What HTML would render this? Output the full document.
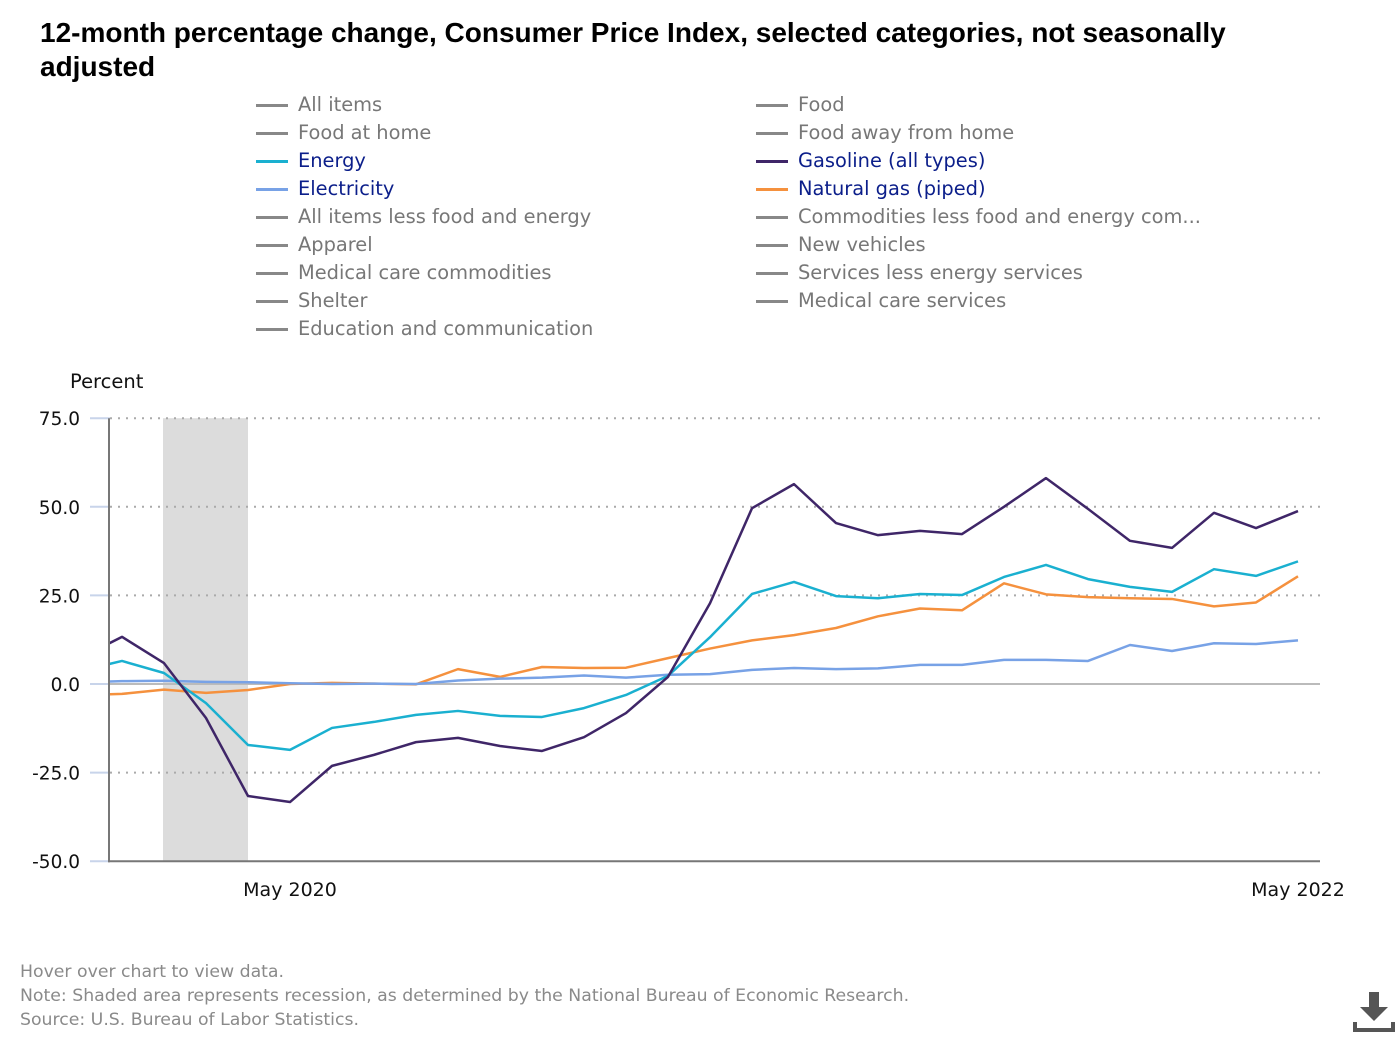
<!DOCTYPE html>
<html><head><meta charset="utf-8"><style>
body{margin:0;background:#fff;font-family:"DejaVu Sans","Liberation Sans",sans-serif;}
#wrap{position:relative;width:1400px;height:1040px;overflow:hidden;}
h1{position:absolute;left:40px;top:16px;margin:0;font-family:"Liberation Sans",sans-serif;font-size:28px;line-height:34px;font-weight:bold;color:#000;width:1250px;}
.leg{position:absolute;font-size:19.4px;color:#777;height:28px;line-height:28px;white-space:nowrap;}
.leg .ln{position:absolute;left:0;top:13px;width:32px;height:3px;background:#888;}
.leg span.t{position:absolute;left:42px;}
.leg.on{color:#0b1e8a;}
.foot{position:absolute;left:20px;font-size:17.3px;color:#8a8a8a;}
</style></head><body><div id="wrap">
<h1>12-month percentage change, Consumer Price Index, selected categories, not seasonally adjusted</h1>
<div id="legend"></div>
<svg id="chart" width="1400" height="1040" style="position:absolute;left:0;top:0"></svg>
<div class="foot" style="top:962px">Hover over chart to view data.</div>
<div class="foot" style="top:986px">Note: Shaded area represents recession, as determined by the National Bureau of Economic Research.</div>
<div class="foot" style="top:1010px">Source: U.S. Bureau of Labor Statistics.</div>
<svg style="position:absolute;left:1352px;top:990px" width="44" height="44">
<rect x="17" y="2" width="10" height="16" fill="#555"/><polygon points="8,17 36,17 22,31" fill="#555"/>
<path d="M3 32 V40 H41 V32" stroke="#555" stroke-width="4" fill="none"/></svg>
</div>
<script>
const legendNames=["All items","Food","Food at home","Food away from home","Energy","Gasoline (all types)","Electricity","Natural gas (piped)","All items less food and energy","Commodities less food and energy com...","Apparel","New vehicles","Medical care commodities","Services less energy services","Shelter","Medical care services","Education and communication"];
const legendColors={"Energy":"#1ab0d0","Gasoline (all types)":"#3f2668","Electricity":"#78a2e6","Natural gas (piped)":"#f5913e"};
const months=["Dec 2019","Jan 2020","Feb 2020","Mar 2020","Apr 2020","May 2020","Jun 2020","Jul 2020","Aug 2020","Sep 2020","Oct 2020","Nov 2020","Dec 2020","Jan 2021","Feb 2021","Mar 2021","Apr 2021","May 2021","Jun 2021","Jul 2021","Aug 2021","Sep 2021","Oct 2021","Nov 2021","Dec 2021","Jan 2022","Feb 2022","Mar 2022","Apr 2022","May 2022"];
const gasoline=[7.3,13.3,5.9,-9.6,-31.6,-33.3,-23.1,-20.0,-16.4,-15.2,-17.5,-18.9,-15.0,-8.2,2.0,22.8,49.6,56.4,45.4,42.0,43.2,42.3,50.0,58.1,49.4,40.4,38.4,48.3,44.0,48.8];
const energy=[3.7,6.5,3.1,-5.4,-17.2,-18.6,-12.4,-10.7,-8.7,-7.6,-9.0,-9.3,-6.8,-3.1,2.3,13.2,25.4,28.8,24.8,24.2,25.4,25.1,30.2,33.6,29.6,27.4,26.0,32.4,30.5,34.6];
const electricity=[0.5,0.8,0.9,0.6,0.5,0.2,0.0,0.1,0.0,1.0,1.5,1.8,2.4,1.8,2.6,2.8,4.0,4.5,4.2,4.4,5.4,5.4,6.8,6.8,6.5,11.0,9.3,11.5,11.3,12.3];
const naturalGas=[-3.1,-2.8,-1.6,-2.5,-1.7,0.0,0.3,0.1,-0.1,4.2,2.0,4.8,4.5,4.6,7.3,10.0,12.3,13.8,15.8,19.1,21.3,20.8,28.4,25.3,24.5,24.2,24.0,21.9,23.0,30.4];
const yTicks=[75,50,25,0,-25,-50];
const xLabels=["May 2020","May 2022"];
const recession=["Feb 2020","Apr 2020"];

const X0=122,DX=42,L=110,R=1320;
const x=m=>X0+DX*(months.indexOf(m)-1);
const y=v=>684-v*3.544;
const NS="http://www.w3.org/2000/svg";
const svg=document.getElementById('chart');
function mk(t,a,p){const e=document.createElementNS(NS,t);for(const k in a)e.setAttribute(k,a[k]);(p||svg).appendChild(e);return e;}

const lg=document.getElementById('legend');
legendNames.forEach((n,i)=>{
  const d=document.createElement('div');
  
  
  d.className='leg'+(legendColors[n]?' on':'');
  d.style.left=(i%2?756:256)+'px';d.style.top=(91+28*Math.floor(i/2))+'px';
  d.innerHTML='<div class="ln" style="background:'+(legendColors[n]||'#888')+'"></div><span class="t">'+n+'</span>';
  lg.appendChild(d);
});

mk('text',{x:70,y:388,'font-size':19.5,fill:'#111'}).textContent='Percent';
const rs=mk('rect',{x:x(recession[0])-1,y:y(75),width:x(recession[1])-x(recession[0])+1,height:y(-50)-y(75),fill:'#dcdcdc'});

yTicks.forEach(v=>{
  if(v!==0&&v!==-50){const g=mk('line',{x1:L,x2:R,y1:y(v),y2:y(v),stroke:'#aaa','stroke-width':2,'stroke-dasharray':'2,6'});}
  const tk=mk('line',{x1:90,x2:110,y1:y(v),y2:y(v),stroke:'#c8d4ea','stroke-width':2});
  
  const t=mk('text',{x:80,y:y(v)+7,'text-anchor':'end','font-size':18.5,fill:'#111'});
  
  t.textContent=v.toFixed(1);
});
const z=mk('line',{x1:L,x2:R,y1:y(0),y2:y(0),stroke:'#bbb','stroke-width':2});

mk('line',{x1:109,x2:109,y1:y(75),y2:y(-50)+1,stroke:'#777','stroke-width':2});
mk('line',{x1:108,x2:R,y1:y(-50),y2:y(-50),stroke:'#777','stroke-width':2});
xLabels.forEach(m=>{
  const t=mk('text',{x:x(m),y:896,'text-anchor':'middle','font-size':19,fill:'#111'});
  
  t.textContent=m;
});
mk('clipPath',{id:'cp'});mk('rect',{x:L,y:0,width:R-L,height:1040},svg.lastChild);
const series=[[naturalGas,'#f5913e','natural-gas-line'],[electricity,'#78a2e6','electricity-line'],[energy,'#1ab0d0','energy-line'],[gasoline,'#3f2668','gasoline-line']];
series.forEach(([d,c,n])=>{
  const p=mk('polyline',{points:d.map((v,i)=>x(months[i])+','+y(v)).join(' '),fill:'none',stroke:c,'stroke-width':2.5,'stroke-linejoin':'round','clip-path':'url(#cp)'});
  
  
});
</script></body></html>
